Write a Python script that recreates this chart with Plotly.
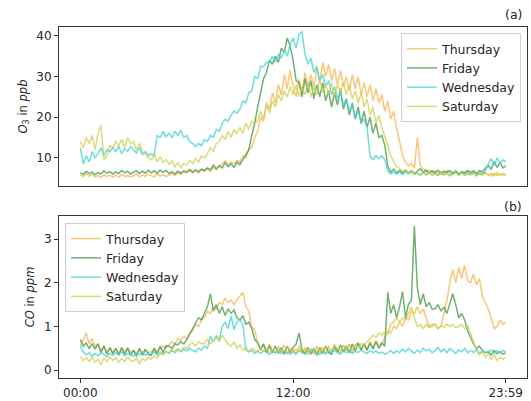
import plotly.graph_objects as go

# time in minutes since midnight (10-min sampling + last minute)
minutes = list(range(0, 1440, 10)) + [1439]
tick_vals = [0, 720, 1439]
tick_text = ["00:00", "12:00", "23:59"]

series_names = ["Thursday", "Friday", "Wednesday", "Saturday"]

o3_thursday = [
    5.8,5.4,6.1,5.5,5.9,5.3, 5.6,5.2,5.8,5.4,5.7,5.3, 5.7,5.2,5.9,5.4,5.6,5.3, 5.5,6.0,5.3,5.8,5.4,5.9,
    5.6,5.3,6.0,5.5,5.8,5.4, 5.7,6.2,5.6,6.4,5.9,6.5, 6.3,7.0,6.4,6.9,6.2,7.1, 6.8,7.4,6.6,7.6,7.0,8.0,
    8.4,9.3,8.2,9.0,8.5,9.4, 9.0,10.5,10.0,12.0,12.5,15.0, 16.5,20.0,19.0,23.5,22.0,26.0, 23.5,28.0,25.5,30.5,27.0,31.5,
    27.5,25.0,29.5,26.0,31.0,27.5, 30.5,27.5,32.0,28.5,33.5,30.0, 33.0,29.0,32.0,28.0,31.5,27.5, 30.0,26.5,30.5,27.0,30.0,25.5,
    28.5,25.0,28.0,24.0,27.0,23.5, 25.5,21.5,24.0,19.5,21.5,17.0, 14.0,10.5,9.0,8.0,8.6,7.4, 15.0,8.0,7.2,6.5,7.0,6.2,
    6.8,6.0,6.6,6.1,6.9,6.3, 6.0,6.5,5.8,6.4,6.0,6.6, 5.8,6.3,5.7,6.2,5.9,6.4, 5.7,6.2,5.6,6.3,5.8,6.1, 5.9]
o3_friday = [
    6.3,5.9,6.7,6.1,6.5,5.8, 6.4,6.0,6.8,6.2,6.6,6.0, 6.5,6.1,6.9,6.3,6.7,6.0, 6.4,6.8,6.1,6.7,6.2,6.9,
    6.3,6.8,6.2,7.0,6.4,6.9, 6.1,6.6,6.0,6.7,6.2,6.8, 6.5,7.1,6.4,7.0,6.6,7.2, 6.8,7.5,7.0,8.2,7.3,8.0,
    7.5,8.8,7.8,8.5,7.6,8.9, 8.3,9.5,10.5,12.0,15.5,18.5, 22.5,26.0,29.5,31.0,34.0,33.0, 35.0,33.5,37.0,36.0,39.5,37.5,
    34.0,29.0,28.5,25.0,29.5,26.0, 29.0,24.5,28.0,25.0,28.5,24.0, 26.5,22.5,26.0,23.0,27.0,22.0, 24.5,20.5,23.5,19.5,22.5,18.5,
    21.5,17.5,20.0,16.0,18.5,15.0, 15.5,13.0,8.0,6.5,7.2,6.3, 6.9,6.2,7.0,6.3,6.8,6.1, 6.6,7.3,6.4,7.0,6.2,6.8,
    6.3,6.9,6.1,6.7,6.4,6.9, 6.2,6.8,6.0,6.6,6.3,6.9, 6.4,6.8,6.1,6.9,6.5,7.4, 8.0,7.2,9.0,7.6,8.8,7.5, 8.0]
o3_wednesday = [
    12.5,8.5,10.5,9.0,11.5,10.0, 11.0,12.5,10.5,12.0,11.5,12.5, 11.5,12.8,11.0,12.2,11.6,12.8, 12.0,11.2,12.5,10.8,11.5,10.5,
    11.0,10.5,15.5,15.0,16.5,15.2, 16.0,15.0,16.5,15.5,16.8,15.0, 15.5,14.0,13.5,12.8,13.5,13.0, 14.5,14.0,15.5,15.0,17.0,16.5,
    18.5,19.5,19.0,20.5,21.5,21.0, 22.0,24.0,23.5,26.0,26.5,30.0, 29.5,32.5,32.5,33.5,33.5,35.0, 33.5,35.5,34.5,36.5,35.0,38.0,
    39.5,37.0,40.5,41.0,35.5,33.0, 34.5,31.0,32.5,29.0,30.5,27.5, 29.0,25.5,27.5,24.5,26.0,23.0, 24.5,21.5,23.0,20.0,21.5,18.5,
    19.5,17.5,10.5,9.5,10.5,9.8, 10.5,9.5,6.8,6.0,6.5,5.9, 6.4,5.8,6.6,6.0,6.5,5.9, 6.2,5.7,6.4,5.9,6.3,5.8,
    6.1,5.6,6.3,5.8,6.2,5.7, 6.0,6.5,5.8,6.3,5.7,6.2, 5.9,6.4,5.8,6.3,6.0,6.8, 8.5,9.8,8.2,10.0,8.6,9.5, 9.0]
o3_saturday = [
    14.0,12.5,15.0,13.5,15.5,12.0, 16.0,18.0,9.5,10.5,13.0,12.5, 14.0,13.0,14.5,12.5,15.0,13.5, 14.0,12.0,13.5,11.5,11.0,10.0,
    9.5,10.8,9.0,10.2,8.8,9.6, 8.4,9.2,7.8,8.8,7.6,8.6, 8.2,9.4,8.5,9.8,9.0,10.5, 10.0,11.0,12.5,11.5,13.5,14.0,
    15.5,14.5,16.5,15.0,17.0,16.0, 17.5,16.0,18.5,17.0,19.0,18.5, 19.0,21.5,19.5,23.0,21.0,24.0, 22.5,25.5,24.0,26.5,25.0,27.5,
    25.5,28.0,25.0,27.5,25.5,28.5, 25.0,27.5,25.5,29.0,26.0,28.0, 25.5,28.5,25.0,28.0,26.0,28.5, 25.5,28.0,24.5,26.5,23.5,26.0,
    22.5,24.5,20.5,22.5,18.5,20.5, 17.5,15.5,13.0,10.5,9.0,7.8, 7.4,6.6,7.0,6.2,6.6,6.0, 6.3,5.8,6.4,5.7,6.2,5.8,
    6.0,5.6,6.2,5.7,6.1,5.5, 5.9,6.3,5.6,6.2,5.7,6.1, 5.8,6.2,5.5,6.0,5.7,6.2, 5.9,5.5,6.1,5.6,6.0,5.7, 5.8]

co_thursday = [
    0.55,0.7,0.85,0.6,0.72,0.55, 0.6,0.45,0.55,0.42,0.5,0.4, 0.48,0.38,0.5,0.42,0.52,0.4, 0.45,0.38,0.48,0.36,0.46,0.4,
    0.42,0.5,0.4,0.48,0.55,0.5, 0.58,0.65,0.6,0.72,0.68,0.78, 0.72,0.85,0.9,1.05,1.0,1.15, 1.2,1.35,1.3,1.45,1.4,1.55,
    1.5,1.65,1.55,1.6,1.5,1.62, 1.7,1.78,1.45,1.35,1.0,0.9, 0.65,0.5,0.58,0.42,0.6,0.45, 0.38,0.55,0.42,0.58,0.36,0.5,
    0.48,0.35,0.55,0.38,0.52,0.34, 0.5,0.36,0.55,0.38,0.52,0.36, 0.56,0.4,0.6,0.44,0.4,0.58, 0.44,0.6,0.4,0.58,0.62,0.46,
    0.6,0.45,0.66,0.5,0.68,0.55, 0.6,0.75,0.9,0.85,1.0,0.95, 1.1,1.0,1.2,1.15,1.35,1.3, 1.45,1.3,1.4,1.2,1.0,1.05,
    1.05,0.95,1.0,1.3,1.6,2.0, 2.3,2.0,2.35,2.1,2.4,2.05, 2.0,2.2,1.95,2.1,1.7,1.55, 1.4,1.2,0.95,1.0,1.15,1.05, 1.1]
co_friday = [
    0.7,0.55,0.62,0.5,0.6,0.48, 0.6,0.4,0.55,0.36,0.52,0.38, 0.5,0.34,0.52,0.36,0.5,0.34, 0.46,0.32,0.5,0.34,0.48,0.36,
    0.34,0.5,0.38,0.55,0.4,0.56, 0.55,0.5,0.6,0.58,0.65,0.6, 0.7,0.82,0.95,1.05,1.2,1.15, 1.3,1.45,1.75,1.35,1.5,1.3,
    1.45,1.25,1.4,1.3,1.38,1.2, 1.15,1.25,1.05,1.1,0.95,0.7, 0.62,0.46,0.6,0.4,0.56,0.4, 0.55,0.38,0.52,0.36,0.55,0.4,
    0.52,0.6,0.85,0.45,0.38,0.52, 0.36,0.5,0.34,0.52,0.38,0.55, 0.4,0.36,0.55,0.4,0.58,0.42, 0.55,0.4,0.6,0.44,0.62,0.46,
    0.6,0.46,0.62,0.48,0.65,0.5, 0.62,0.55,1.78,1.3,1.5,1.2, 1.45,1.8,1.2,1.5,1.6,3.3, 1.9,1.5,1.75,1.45,1.55,1.4,
    1.4,1.5,1.35,1.45,1.3,1.5, 1.75,1.5,1.2,1.3,1.15,0.9, 0.75,0.6,0.5,0.55,0.45,0.4, 0.42,0.35,0.45,0.38,0.42,0.36, 0.4]
co_wednesday = [
    0.55,0.42,0.35,0.4,0.32,0.38, 0.33,0.4,0.36,0.3,0.38,0.34, 0.4,0.35,0.42,0.33,0.38,0.36, 0.32,0.4,0.35,0.42,0.34,0.38,
    0.36,0.42,0.34,0.4,0.37,0.43, 0.38,0.45,0.4,0.47,0.42,0.48, 0.44,0.5,0.45,0.42,0.5,0.46, 0.55,0.5,0.78,0.65,0.8,0.7,
    1.0,1.1,0.95,1.24,0.93,1.1, 1.15,1.05,0.47,0.42,0.45,0.38, 0.44,0.38,0.45,0.4,0.36,0.43, 0.4,0.46,0.38,0.44,0.4,0.36,
    0.43,0.38,0.45,0.4,0.37,0.44, 0.39,0.45,0.4,0.36,0.43,0.38, 0.44,0.39,0.46,0.4,0.37,0.44, 0.4,0.45,0.38,0.43,0.4,0.46,
    0.42,0.38,0.45,0.4,0.44,0.38, 0.42,0.36,0.4,0.45,0.38,0.44, 0.4,0.48,0.42,0.5,0.44,0.38, 0.46,0.4,0.5,0.44,0.48,0.4,
    0.45,0.52,0.42,0.48,0.4,0.5, 0.44,0.38,0.46,0.42,0.5,0.4, 0.45,0.4,0.48,0.38,0.44,0.4, 0.42,0.46,0.38,0.44,0.4,0.45, 0.42]
co_saturday = [
    0.32,0.22,0.28,0.2,0.3,0.18, 0.25,0.12,0.28,0.2,0.3,0.22, 0.28,0.18,0.26,0.2,0.3,0.22, 0.2,0.28,0.15,0.26,0.22,0.3,
    0.25,0.32,0.28,0.38,0.35,0.42, 0.4,0.48,0.42,0.5,0.45,0.52, 0.5,0.58,0.63,0.55,0.65,0.6, 0.62,0.7,0.6,0.68,0.75,0.65,
    0.8,0.7,0.6,0.55,0.65,0.5, 0.58,0.45,0.52,0.42,0.5,0.45, 0.42,0.5,0.44,0.48,0.4,0.46, 0.5,0.42,0.48,0.44,0.52,0.45,
    0.4,0.48,0.42,0.5,0.44,0.47, 0.45,0.5,0.42,0.48,0.44,0.52, 0.48,0.45,0.55,0.5,0.46,0.55, 0.5,0.56,0.48,0.58,0.52,0.6,
    0.58,0.65,0.72,0.8,0.75,0.85, 0.8,0.88,0.82,1.05,1.1,1.2, 1.1,1.2,1.15,1.3,1.45,1.2, 1.0,1.05,0.95,1.05,0.98,1.0,
    1.05,0.95,1.02,0.98,1.05,1.0, 1.05,0.98,1.0,1.05,0.95,1.02, 0.85,0.65,0.45,0.35,0.42,0.3, 0.38,0.25,0.35,0.22,0.3,0.25, 0.3]

colors = ["rgba(246,178,70,0.72)", "rgba(70,155,75,0.78)", "rgba(70,210,212,0.78)", "rgba(205,205,70,0.72)"]

o3_data = [o3_thursday, o3_friday, o3_wednesday, o3_saturday]
co_data = [co_thursday, co_friday, co_wednesday, co_saturday]

fig = go.Figure()
for name, vals, c in zip(series_names, o3_data, colors):
    fig.add_trace(go.Scatter(x=minutes, y=vals, mode="lines", name=name,
                             line=dict(color=c, width=1.5), xaxis="x", yaxis="y", legend="legend"))
for name, vals, c in zip(series_names, co_data, colors):
    fig.add_trace(go.Scatter(x=minutes, y=vals, mode="lines", name=name,
                             line=dict(color=c, width=1.5), xaxis="x2", yaxis="y2", legend="legend2"))

W, H = 531, 401
txt = "#262626"
font = dict(family="DejaVu Sans", size=12, color=txt)
axis_common = dict(showline=True, linecolor="#333", linewidth=1, mirror=True, showgrid=False,
                   zeroline=False, ticklen=4, tickcolor="#333", tickfont=font)

fig.update_layout(
    width=W, height=H, margin=dict(l=0, r=0, t=0, b=0),
    paper_bgcolor="white", plot_bgcolor="white", font=font,
    xaxis=dict(domain=[59/W, 527/W], range=[-72, 1511], anchor="y",
               tickvals=tick_vals, showticklabels=False, ticks="", **axis_common),
    yaxis=dict(domain=[(H-186)/H, (H-27)/H], range=[3.05, 42.2], anchor="x", ticks="outside",
               tickvals=[10, 20, 30, 40],
               title=dict(text="<i>O</i><sub>3</sub> in <i>ppb</i>", font=dict(family="DejaVu Sans", size=11.5, color=txt), standoff=6),
               **axis_common),
    xaxis2=dict(domain=[59/W, 527/W], range=[-72, 1511], anchor="y2", ticks="outside",
                tickvals=tick_vals, ticktext=tick_text, **axis_common),
    yaxis2=dict(domain=[(H-378)/H, (H-216)/H], range=[-0.18, 3.53], anchor="x2", ticks="outside",
                tickvals=[0, 1, 2, 3],
                title=dict(text="<i>CO</i> in <i>ppm</i>", font=dict(family="DejaVu Sans", size=11.5, color=txt), standoff=6),
                **axis_common),
    legend=dict(x=521/W, y=(H-33)/H, xanchor="right", yanchor="top", itemwidth=30,
                bgcolor="rgba(255,255,255,0.8)", bordercolor="#d0d0d0", borderwidth=1,
                font=dict(family="DejaVu Sans", size=12.5, color=txt)),
    legend2=dict(x=65/W, y=(H-223)/H, xanchor="left", yanchor="top", itemwidth=30,
                 bgcolor="rgba(255,255,255,0.8)", bordercolor="#d0d0d0", borderwidth=1,
                 font=dict(family="DejaVu Sans", size=12.5, color=txt)),
    annotations=[
        dict(text="(a)", x=524/W, y=(H-14)/H, xref="paper", yref="paper", xanchor="right", yanchor="middle",
             showarrow=False, font=dict(family="DejaVu Sans", size=12.5, color=txt)),
        dict(text="(b)", x=524/W, y=(H-206)/H, xref="paper", yref="paper", xanchor="right", yanchor="middle",
             showarrow=False, font=dict(family="DejaVu Sans", size=12.5, color=txt)),
    ],
)

fig.write_html("out.html")
